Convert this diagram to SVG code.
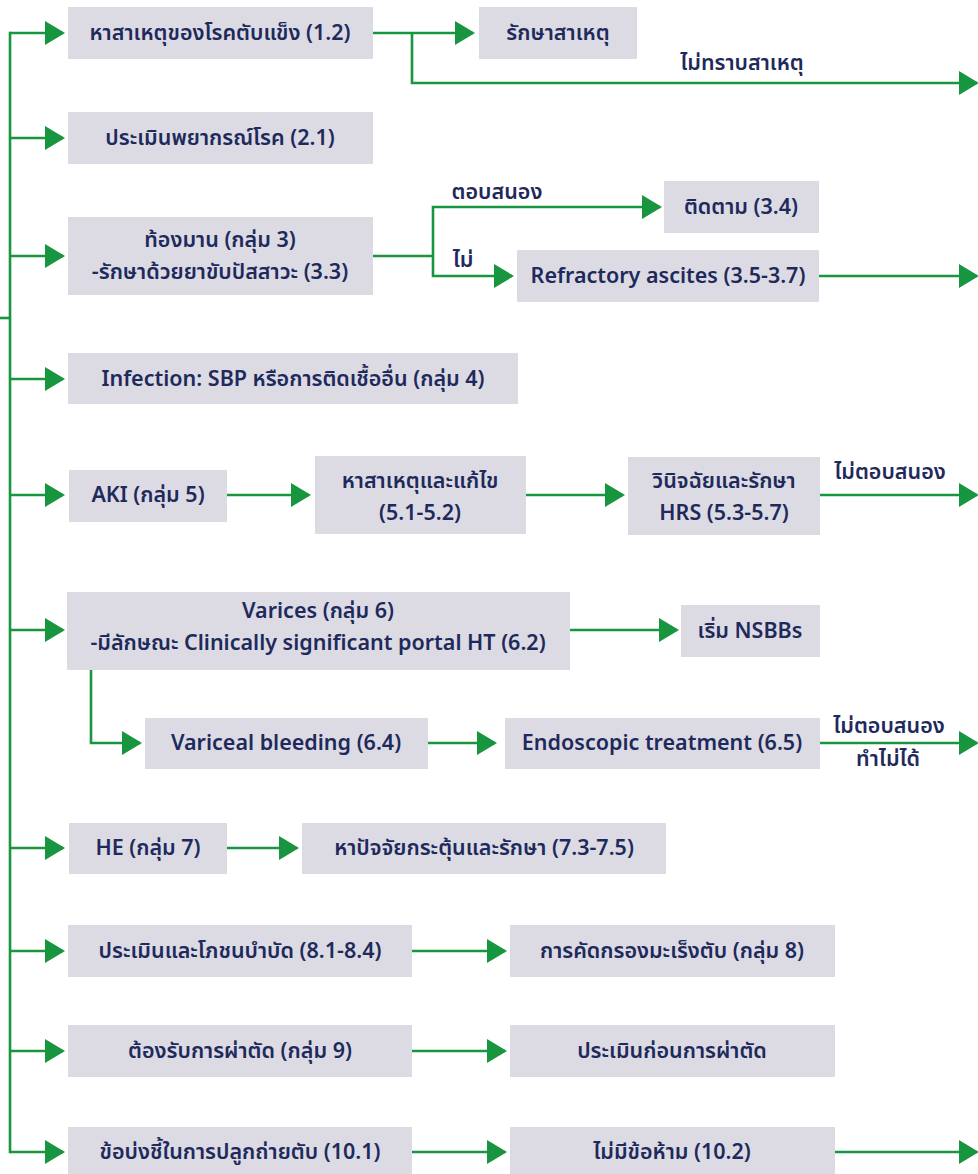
<svg xmlns="http://www.w3.org/2000/svg" width="978" height="1174" viewBox="0 0 978 1174">
<defs>
<style>
.box{fill:#dcdbe4;}
.t{font-family:"Noto Sans","Noto Sans Thai",Tahoma,sans-serif;font-size:21.5px;font-weight:600;fill:#1f2a5c;text-anchor:middle;}
.c{fill:none;stroke:#17963f;stroke-width:2.6;}
.a{fill:none;stroke:#17963f;stroke-width:2.6;marker-end:url(#ah);}
</style>
<marker id="ah" markerUnits="userSpaceOnUse" markerWidth="20" markerHeight="24" refX="18" refY="12" orient="auto">
<path d="M0,0 L20,12 L0,24 z" fill="#17963f"/>
</marker>
</defs>
<rect width="978" height="1174" fill="#ffffff"/>

<g id="connectors">
<line class="c" x1="10" y1="33" x2="10" y2="1152" stroke-linecap="square"/>
<line class="c" x1="0" y1="318" x2="10" y2="318"/>
<line class="a" x1="10" y1="33" x2="63" y2="33"/>
<line class="a" x1="10" y1="138" x2="63" y2="138"/>
<line class="a" x1="10" y1="256" x2="63" y2="256"/>
<line class="a" x1="10" y1="379" x2="63" y2="379"/>
<line class="a" x1="10" y1="495" x2="63" y2="495"/>
<line class="a" x1="10" y1="630" x2="63" y2="630"/>
<line class="a" x1="10" y1="848" x2="63" y2="848"/>
<line class="a" x1="10" y1="951" x2="63" y2="951"/>
<line class="a" x1="10" y1="1051" x2="63" y2="1051"/>
<line class="a" x1="10" y1="1152" x2="63" y2="1152"/>

<line class="a" x1="373" y1="33" x2="473" y2="33"/>
<path class="a" d="M412,33 V83 H977"/>

<path class="c" d="M373,256 H433"/>
<path class="a" d="M433,256 V207 H660"/>
<path class="a" d="M433,256 V276 H512"/>
<line class="a" x1="819" y1="276" x2="977" y2="276"/>

<line class="a" x1="227" y1="495" x2="309" y2="495"/>
<line class="a" x1="526" y1="495" x2="623" y2="495"/>
<line class="a" x1="820" y1="495" x2="977" y2="495"/>

<line class="a" x1="570" y1="630" x2="677" y2="630"/>
<path class="a" d="M91,670 V743 H140"/>
<line class="a" x1="428" y1="743" x2="495" y2="743"/>
<line class="a" x1="820" y1="743" x2="977" y2="743"/>

<line class="a" x1="227" y1="848" x2="297" y2="848"/>
<line class="a" x1="412" y1="951" x2="505" y2="951"/>
<line class="a" x1="412" y1="1051" x2="505" y2="1051"/>
<line class="a" x1="412" y1="1152" x2="505" y2="1152"/>
<line class="a" x1="835" y1="1152" x2="977" y2="1152"/>
</g>

<g id="labels">
<text class="t" x="742" y="70">ไม่ทราบสาเหตุ</text>
<text class="t" x="497" y="199">ตอบสนอง</text>
<text class="t" x="463" y="267">ไม่</text>
<text class="t" x="890" y="479">ไม่ตอบสนอง</text>
<text class="t" x="889" y="733">ไม่ตอบสนอง</text>
<text class="t" x="888" y="766">ทำไม่ได้</text>
</g>

<g id="n1"><rect class="box" x="68" y="7" width="305" height="52"/><text class="t" x="220" y="40">หาสาเหตุของโรคตับแข็ง (1.2)</text></g>
<g id="n1b"><rect class="box" x="479" y="7" width="158" height="52"/><text class="t" x="558" y="40">รักษาสาเหตุ</text></g>
<g id="n2"><rect class="box" x="68" y="112" width="305" height="52"/><text class="t" x="220" y="145">ประเมินพยากรณ์โรค (2.1)</text></g>
<g id="n3"><rect class="box" x="68" y="217" width="305" height="78"/><text class="t" x="220" y="247">ท้องมาน (กลุ่ม 3)</text><text class="t" x="220" y="279">-รักษาด้วยยาขับปัสสาวะ (3.3)</text></g>
<g id="n3a"><rect class="box" x="664" y="181" width="155" height="52"/><text class="t" x="741" y="214">ติดตาม (3.4)</text></g>
<g id="n3b"><rect class="box" x="517" y="250" width="302" height="52"/><text class="t" x="668" y="283">Refractory ascites (3.5-3.7)</text></g>
<g id="n4"><rect class="box" x="68" y="353" width="450" height="51"/><text class="t" x="293" y="386">Infection: SBP หรือการติดเชื้ออื่น (กลุ่ม 4)</text></g>
<g id="n5"><rect class="box" x="69" y="470" width="158" height="52"/><text class="t" x="148" y="502">AKI (กลุ่ม 5)</text></g>
<g id="n5a"><rect class="box" x="315" y="456" width="211" height="78"/><text class="t" x="420" y="488">หาสาเหตุและแก้ไข</text><text class="t" x="420" y="520">(5.1-5.2)</text></g>
<g id="n5b"><rect class="box" x="628" y="457" width="192" height="78"/><text class="t" x="724" y="488">วินิจฉัยและรักษา</text><text class="t" x="724" y="520">HRS (5.3-5.7)</text></g>
<g id="n6"><rect class="box" x="67" y="592" width="503" height="78"/><text class="t" x="318" y="618">Varices (กลุ่ม 6)</text><text class="t" x="318" y="650">-มีลักษณะ Clinically significant portal HT (6.2)</text></g>
<g id="n6a"><rect class="box" x="681" y="605" width="139" height="52"/><text class="t" x="750" y="638">เริ่ม NSBBs</text></g>
<g id="n6b"><rect class="box" x="145" y="718" width="283" height="51"/><text class="t" x="286" y="750">Variceal bleeding (6.4)</text></g>
<g id="n6c"><rect class="box" x="505" y="718" width="315" height="51"/><text class="t" x="662" y="750">Endoscopic treatment (6.5)</text></g>
<g id="n7"><rect class="box" x="69" y="823" width="158" height="51"/><text class="t" x="148" y="855">HE (กลุ่ม 7)</text></g>
<g id="n7a"><rect class="box" x="302" y="823" width="364" height="51"/><text class="t" x="484" y="855">หาปัจจัยกระตุ้นและรักษา (7.3-7.5)</text></g>
<g id="n8"><rect class="box" x="68" y="925" width="344" height="52"/><text class="t" x="240" y="958">ประเมินและโภชนบำบัด (8.1-8.4)</text></g>
<g id="n8a"><rect class="box" x="510" y="925" width="325" height="52"/><text class="t" x="672" y="958">การคัดกรองมะเร็งตับ (กลุ่ม 8)</text></g>
<g id="n9"><rect class="box" x="68" y="1025" width="344" height="52"/><text class="t" x="240" y="1058">ต้องรับการผ่าตัด (กลุ่ม 9)</text></g>
<g id="n9a"><rect class="box" x="510" y="1025" width="325" height="52"/><text class="t" x="672" y="1058">ประเมินก่อนการผ่าตัด</text></g>
<g id="n10"><rect class="box" x="68" y="1127" width="344" height="52"/><text class="t" x="240" y="1159">ข้อบ่งชี้ในการปลูกถ่ายตับ (10.1)</text></g>
<g id="n10a"><rect class="box" x="510" y="1127" width="325" height="52"/><text class="t" x="672" y="1159">ไม่มีข้อห้าม (10.2)</text></g>
</svg>
